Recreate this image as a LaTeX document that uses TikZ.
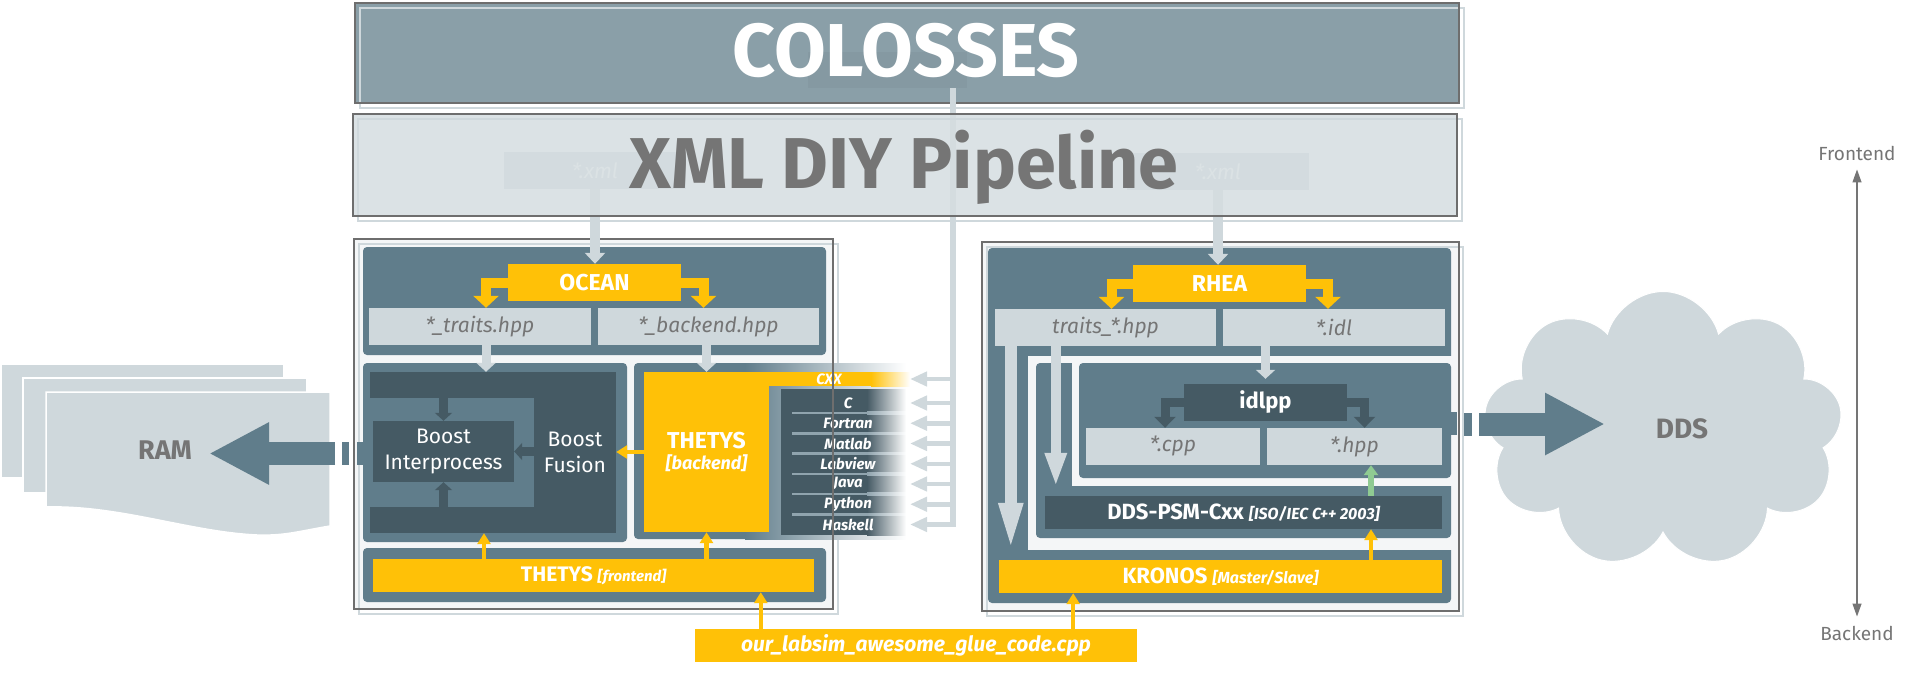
\documentclass[tikz,border=0pt]{standalone}
\usepackage{fontspec}
\setmainfont{Fira Sans}
\usetikzlibrary{arrows.meta,shapes.symbols}
\definecolor{slate}{HTML}{607D8B}
\definecolor{dark}{HTML}{455A64}
\definecolor{lite}{HTML}{CFD8DC}
\definecolor{amber}{HTML}{FFC107}
\definecolor{txtgray}{HTML}{757575}
\definecolor{framebg}{HTML}{F4F6F7}
\definecolor{sepline}{HTML}{90A4AE}
\definecolor{leaf}{HTML}{8FCB92}
\definecolor{colbox}{HTML}{8A9FA8}
\definecolor{ghost}{HTML}{8599A2}
\definecolor{xmlbox}{HTML}{D5DDE0}
\definecolor{xmlfile}{HTML}{CAD4DA}
\definecolor{outline}{HTML}{6E6E6E}
\newcommand{\pxfont}[2]{\fontsize{#1}{#2}\selectfont}
\tikzset{
  panel/.style={fill=slate, rounded corners=4pt},
  tool/.style={fill=amber, text=white, font=\pxfont{23}{21}\bfseries, inner sep=0pt, minimum height=37pt},
  file/.style={fill=lite, text=txtgray, font=\pxfont{21}{21}\itshape, inner sep=0pt, minimum height=37pt},
  tooldark/.style={fill=dark, text=white, font=\pxfont{22}{22}\bfseries, inner sep=0pt, minimum height=37pt},
  xfile/.style={fill=xmlfile, text=white, font=\pxfont{21}{21}\itshape, inner sep=0pt, minimum height=37pt},
  lab/.style={text=white, font=\pxfont{15}{15}\bfseries\itshape, inner sep=0pt},
  plain/.style={text=white, font=\pxfont{21}{26}, align=center, inner sep=0pt},
  big/.style={text=txtgray, font=\pxfont{27}{27}\bfseries, inner sep=0pt},
  side/.style={text=txtgray, font=\pxfont{19}{19}, inner sep=0pt},
  larrow/.style={draw=lite, line width=9pt, -{Triangle[width=19pt,length=9pt]}},
  xarrow/.style={draw=lite, line width=10pt, -{Triangle[width=20pt,length=11pt]}},
  oarrow/.style={draw=amber, line width=10pt, -{Triangle[width=25pt,length=12pt]}},
  yarrow/.style={draw=amber, line width=4.5pt, -{Triangle[width=13pt,length=11pt]}},
  darrow/.style={draw=dark, line width=9pt, -{Triangle[width=17pt,length=8pt]}},
  darrowb/.style={draw=dark, line width=9pt, -{Triangle[width=21pt,length=11pt]}},
  garrow/.style={draw=leaf, line width=6pt, -{Triangle[width=14pt,length=10pt]}},
  tallarrow/.style={draw=lite, line width=12pt, -{Triangle[width=21pt,length=52pt]}, shorten >=5pt},
  midarrow/.style={draw=lite, line width=10pt, -{Triangle[width=20pt,length=34pt]}, shorten >=9pt},
  busline/.style={draw=lite, line width=6pt},
  busarrow/.style={draw=lite, line width=4.5pt, -{Triangle[width=14pt,length=17pt]}},
  bigarrow/.style={draw=slate, line width=23pt, -{Triangle[width=58pt,length=60pt]}},
  axis/.style={draw=txtgray, line width=1.2pt, {Triangle[width=9pt,length=13pt]}-{Triangle[width=9pt,length=13pt]}},
  frdark/.style={draw=outline, line width=1.2pt},
  frlite/.style={draw=lite, line width=1.5pt}
}
\begin{document}
\begin{tikzpicture}[x=1pt,y=-1pt]
  \useasboundingbox (0,0) rectangle (1920,690);

  % frames
  \fill[framebg] (354,239) rectangle (833,609);
  \draw[frlite] (359,244) rectangle (838,614);
  \fill[framebg] (982,242) rectangle (1459,611);
  \draw[frlite] (987,247) rectangle (1463,616);

  % OCEAN
  \fill[panel] (363,247) rectangle (826,355);
  \node[tool, minimum width=173pt] (ocean) at (594.5,282.5) {OCEAN};
  \node[file, minimum width=222pt] (traits) at (480,326.5) {*\_traits.hpp};
  \node[file, minimum width=221pt] (backend) at (708.5,326.5) {*\_backend.hpp};
  \draw[oarrow] (ocean.west) -| ([xshift=6pt]traits.north);
  \draw[oarrow] (ocean.east) -| ([xshift=-5pt]backend.north);

  % boost
  \fill[panel] (363,363) rectangle (627,542);
  \fill[slate] (357,442) rectangle (366,465);
  \node[fill=dark, minimum width=246pt, minimum height=161pt, inner sep=0pt] (boostD) at (493,452.5) {};
  \node[fill=slate, minimum width=164pt, minimum height=109pt, inner sep=0pt] (boostL) at (452,452.5) {};
  \node[fill=dark, plain, minimum width=141pt, minimum height=61pt] (bip) at (443.5,451.5) {Boost\\Interprocess};
  \node[plain] (fusion) at (575,452) {Boost\\Fusion};
  \draw[darrow] (bip.north |- boostL.north) -- (bip.north);
  \draw[darrow] (bip.south |- boostL.south) -- (bip.south);
  \draw[darrow] (bip.east -| boostL.east) -- (bip.east);
  \draw[larrow] ([xshift=6pt]traits.south) -- ([xshift=6pt]traits.south |- boostD.north);

  % THETYS backend
  \fill[panel] (634,363) rectangle (760,539);
  \shade[left color=slate, right color=white] (745,363) rectangle (906,539);
  \node[tool, minimum width=125pt, minimum height=160pt, align=center] (thetysB) at (706.5,452)
    {THETYS\\{\pxfont{18}{18}\itshape [backend]}};
  \fill[amber] (766,372) rectangle (872,386);
  \shade[left color=amber, right color=white] (871,372) rectangle (910,386);
  \fill[dark] (781,389) rectangle (868,535);
  \shade[left color=dark, right color=white] (867,389) rectangle (906,535);
  \foreach \k in {1,...,6} {
    \pgfmathsetmacro\yy{413.1+20.25*(\k-1)}
    \fill[sepline] (792,\yy-1.2) rectangle (868,\yy+1.2);
    \shade[left color=sepline, right color=white] (867,\yy-1.2) rectangle (906,\yy+1.2);
  }
  \node[lab] (cxx) at (829,379) {CXX};
  \foreach \lng [count=\i] in {C,Fortran,Matlab,Labview,Java,Python,Haskell}
    \node[lab] (lang\i) at (848,{403+20.25*(\i-1)}) {\lng};
  \draw[larrow] ([xshift=-2pt]backend.south) -- ([xshift=-2pt]backend.south |- thetysB.north);
  \draw[yarrow] (thetysB.west) -- (thetysB.west -| boostD.east);

  % THETYS frontend
  \fill[panel] (363,548) rectangle (826,602);
  \node[tool, minimum width=441pt, minimum height=33pt, font=\pxfont{21}{21}\bfseries] (front) at (593.5,575.5)
    {THETYS {\pxfont{15}{15}\itshape [frontend]}};
  \draw[yarrow] ([xshift=4pt]traits.south |- front.north) -- ([xshift=4pt]traits.south |- boostD.south);
  \draw[yarrow] (thetysB.south |- front.north) -- (thetysB.south);

  % RHEA
  \fill[panel] (988,248) rectangle (1451,603);
  \fill[framebg] (1028,356) rectangle (1452,550);
  \fill[panel] (1036,363) rectangle (1451,538);
  \fill[framebg] (1072,356) rectangle (1452,486);
  \fill[panel] (1079,363) rectangle (1451,478);
  \fill[slate] (1448,412) rectangle (1457,435);
  \node[tool, minimum width=173pt] (rhea) at (1219.5,283.5) {RHEA};
  \node[file, minimum width=221pt] (traitsR) at (1105.5,327.5) {traits\_*.hpp};
  \node[file, minimum width=222pt] (idl) at (1334,327.5) {*.idl};
  \draw[oarrow] (rhea.west) -| ([xshift=6pt]traitsR.north);
  \draw[oarrow] (rhea.east) -| ([xshift=-6pt]idl.north);
  \node[tooldark, minimum width=163pt] (idlpp) at (1265.5,402.5) {idlpp};
  \node[file, minimum width=174pt] (cpp) at (1173,446.5) {*.cpp};
  \node[file, minimum width=175pt] (hpp) at (1354.5,446.5) {*.hpp};
  \draw[darrowb] (idlpp.west) -| ([xshift=-8pt]cpp.north);
  \draw[darrowb] (idlpp.east) -| ([xshift=10pt]hpp.north);
  \draw[larrow, shorten >=5pt] (idl.south -| idlpp.north) -- (idlpp.north);
  \node[tooldark, minimum width=397pt, minimum height=33pt, font=\pxfont{22}{22}\bfseries] (psm) at (1243.5,512.5)
    {DDS-PSM-Cxx {\pxfont{16}{16}\itshape [ISO/IEC C++ 2003]}};
  \node[tool, minimum width=443pt, minimum height=33pt, font=\pxfont{22}{22}\bfseries] (kronos) at (1220.5,576.5)
    {KRONOS {\pxfont{16}{16}\itshape [Master/Slave]}};
  \draw[garrow] ([xshift=16.5pt]hpp.south |- psm.north) -- ([xshift=16.5pt]hpp.south);
  \draw[yarrow] ([xshift=16.5pt]hpp.south |- kronos.north) -- ([xshift=16.5pt]hpp.south |- psm.south);
  \draw[tallarrow] ([xshift=16pt]traitsR.south west) -- ([xshift=16pt]traitsR.south west |- kronos.north);
  \draw[midarrow] ([xshift=61pt]traitsR.south west) -- ([xshift=61pt]traitsR.south west |- psm.north);

  \draw[frdark] (354,239) rectangle (833,609);
  \draw[frdark] (982,242) rectangle (1459,611);

  % COLOSSES
  \fill[colbox] (355,3) rectangle (1459,103);
  \fill[ghost] (808,52) rectangle (967,88);
  \draw[frlite] (360,8) rectangle (1464,108);
  \draw[frdark] (355,3) rectangle (1459,103);
  \node[text=white, font=\pxfont{75}{75}\bfseries, anchor=base, inner sep=0pt] (colosses) at (906,77) {COLOSSES};
  \coordinate (busTop) at (953,88);
  \coordinate (busEnd) at (953,527);
  \coordinate (busx) at (953,0);
  \coordinate (tipx) at (910,0);
  \draw[busline] (busTop) -- (busEnd);
  \draw[busarrow] (cxx -| busx) -- (cxx -| tipx);
  \foreach \i in {1,...,7}
    \draw[busarrow] (lang\i -| busx) -- (lang\i -| tipx);

  % XML pipeline
  \node[xfile, minimum width=182pt] (xmlL) at (595,170.5) {*.xml};
  \node[xfile, minimum width=182pt] (xmlR) at (1218,171.5) {*.xml};
  \draw[xarrow] (xmlL.south) -- (xmlL.south |- ocean.north);
  \draw[xarrow] (xmlR.south) -- (xmlR.south |- rhea.north);
  \fill[xmlbox, fill opacity=0.85] (353,114) rectangle (1457,216);
  \draw[frlite] (358,119) rectangle (1462,221);
  \draw[frdark] (353,114) rectangle (1457,216);
  \node[text=txtgray, font=\pxfont{72}{72}\bfseries, anchor=base, inner sep=0pt] (pipeline) at (904,188) {XML DIY Pipeline};

  % RAM
  \fill[lite, draw=white, line width=1.5pt] (1,364) rectangle (284,478);
  \fill[lite, draw=white, line width=1.5pt] (23,378) rectangle (307,493);
  \fill[lite, draw=white, line width=1.5pt] (46,392) -- (330,392) -- (330,526)
    .. controls (300,531) and (285,536) .. (257,535)
    .. controls (190,532) and (120,505) .. (46,507) -- cycle;
  \node[big] (ram) at (165,450) {RAM};
  \coordinate (ramFrom) at (335,453.5);
  \coordinate (ramTip) at (209,453.5);
  \draw[bigarrow] (ramFrom) -- (ramTip);
  \fill[slate] (342,442) rectangle (349,465);

  % DDS
  \node[cloud, cloud puffs=9, aspect=1.3, fill=lite, draw=white, line width=1pt,
        minimum width=359pt, minimum height=277pt, inner sep=0pt] (cloud) at (1663,430) {};
  \node[big, font=\pxfont{28}{28}\bfseries] (dds) at (1682,429) {DDS};
  \coordinate (ddsFrom) at (1479,424);
  \coordinate (ddsTip) at (1605,424);
  \draw[bigarrow] (ddsFrom) -- (ddsTip);
  \fill[slate] (1464,412.5) rectangle (1472,435.5);

  % glue code
  \node[tool, minimum width=442pt, minimum height=33pt, font=\pxfont{21}{21}\bfseries\itshape] (glue) at (916,645.5)
    {our\_labsim\_awesome\_glue\_code.cpp};
  \draw[yarrow] ([xshift=66pt]glue.north west) -- ([xshift=66pt]glue.north west |- front.south);
  \draw[yarrow] ([xshift=-64pt]glue.north east) -- ([xshift=-64pt]glue.north east |- kronos.south);

  % frontend / backend
  \node[side] (fe) at (1857,153) {Frontend};
  \node[side] (be) at (1857,633) {Backend};
  \draw[axis, shorten <=9pt, shorten >=9pt] (fe.south) -- (be.north);
\end{tikzpicture}
\end{document}
